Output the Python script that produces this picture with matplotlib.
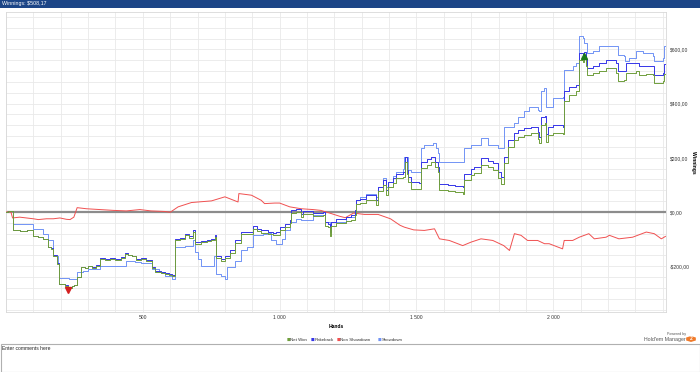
import matplotlib
matplotlib.use('Agg')
import matplotlib.pyplot as plt
from matplotlib.patches import Rectangle, RegularPolygon
from matplotlib.ticker import FuncFormatter, MultipleLocator

plt.rcParams['font.family'] = ['Liberation Sans', 'DejaVu Sans']

# Net won and rakeback (hands, $)
nw_hands = [0, 8, 18, 24, 50, 75, 100, 118, 136, 155, 165, 173, 185, 195, 215, 228, 240, 250,
            258, 273, 290, 300, 315, 330, 343, 360, 380, 400, 420, 434, 445, 460, 475, 495, 510,
            532, 544, 565, 580, 595, 605, 617, 635, 653, 670, 684, 690, 714, 735, 751, 762, 769,
            787, 800, 818, 836, 858, 880, 903, 918, 933, 958, 975, 988, 1000, 1018, 1037, 1043,
            1061, 1079, 1085, 1122, 1158, 1164, 1175, 1183, 1189, 1207, 1244, 1260, 1274, 1280,
            1292, 1316, 1340, 1353, 1359, 1377, 1390, 1396, 1414, 1426, 1450, 1458, 1464, 1468,
            1481, 1511, 1517, 1540, 1554, 1566, 1578, 1584, 1614, 1640, 1669, 1675, 1700, 1712,
            1736, 1760, 1779, 1797, 1809, 1819, 1834, 1858, 1870, 1894, 1919, 1943, 1949, 1955,
            1968, 1973, 1979, 1998, 2034, 2040, 2059, 2083, 2095, 2107, 2113, 2120, 2125, 2144,
            2168, 2193, 2229, 2235, 2259, 2266, 2302, 2314, 2340, 2363, 2369, 2400, 2406, 2410]
net_won = [0, 4, 2, -68, -70, -68, -90, -94, -99, -130, -135, -161, -191, -266, -272, -279, -274,
           -270, -241, -204, -208, -200, -206, -198, -173, -178, -172, -176, -170, -154, -160, -164,
           -176, -174, -182, -207, -220, -224, -230, -233, -236, -104, -100, -86, -95, -74, -117,
           -112, -108, -105, -92, -170, -180, -168, -150, -113, -82, -80, -62, -70, -77, -82, -85,
           -84, -66, -54, -42, -5, 0, -17, -8, -16, -12, -50, -56, -88, -52, -40, -34, -28, -10,
           28, 34, 46, 45, 26, 76, 100, 62, 93, 106, 124, 130, 184, 140, 111, 86, 86, 163, 175,
           183, 165, 148, 80, 76, 72, 68, 117, 135, 145, 173, 166, 154, 125, 105, 180, 241, 265,
           278, 284, 290, 270, 253, 321, 327, 258, 285, 290, 288, 408, 432, 445, 560, 554, 566,
           540, 506, 513, 520, 531, 513, 482, 488, 513, 519, 506, 508, 506, 475, 482, 508, 508]
rakeback = [0, 4, 2, -68, -69, -67, -89, -93, -98, -129, -134, -160, -190, -265, -271, -278, -273,
            -268, -239, -202, -206, -198, -204, -196, -171, -175, -169, -173, -167, -151, -157, -161,
            -172, -170, -178, -203, -216, -220, -226, -229, -231, -99, -95, -80, -90, -68, -111,
            -106, -102, -99, -86, -164, -173, -162, -142, -105, -74, -72, -53, -61, -68, -73, -76,
            -74, -56, -43, -31, 6, 12, -6, 4, -4, 0, -37, -43, -74, -37, -25, -19, -12, 6, 43, 49,
            62, 62, 43, 93, 117, 80, 111, 124, 142, 148, 202, 155, 130, 111, 108, 185, 197, 204,
            185, 167, 105, 99, 96, 93, 142, 160, 167, 198, 190, 179, 148, 130, 204, 266, 290, 303,
            310, 315, 296, 278, 352, 356, 287, 315, 321, 315, 445, 463, 469, 587, 580, 590, 566,
            530, 537, 548, 562, 550, 519, 519, 550, 550, 537, 540, 537, 506, 513, 547, 547]

# Showdown winnings
sd_hands = [0, 8, 18, 24, 60, 100, 136, 155, 173, 190, 195, 230, 258, 282, 300, 343, 434, 440,
            470, 495, 532, 560, 580, 605, 617, 653, 684, 690, 700, 714, 751, 760, 769, 787, 800,
            806, 836, 860, 880, 903, 940, 958, 970, 988, 1010, 1018, 1037, 1061, 1079, 1122, 1158,
            1164, 1183, 1189, 1244, 1274, 1280, 1292, 1316, 1353, 1359, 1377, 1390, 1414, 1426,
            1450, 1456, 1468, 1481, 1511, 1517, 1529, 1560, 1572, 1578, 1584, 1675, 1700, 1736,
            1754, 1760, 1797, 1819, 1858, 1870, 1894, 1913, 1943, 1949, 1955, 1967, 1973, 1998,
            2034, 2040, 2071, 2083, 2095, 2107, 2113, 2125, 2144, 2168, 2229, 2235, 2259, 2263,
            2278, 2302, 2327, 2363, 2369, 2400, 2406, 2410]
showdown = [0, 4, 2, -46, -44, -64, -80, -105, -161, -191, -245, -248, -222, -216, -212, -198, -198,
            -179, -185, -188, -210, -222, -235, -247, -130, -124, -105, -148, -175, -198, -198, -164,
            -228, -235, -247, -204, -179, -142, -130, -86, -80, -78, -105, -117, -99, -68, -37, -25,
            -31, -12, -12, -37, -62, -37, -19, -6, 43, 56, 68, 56, 93, 124, 93, 132, 148, 157, 204,
            154, 148, 148, 235, 247, 253, 235, 216, 185, 235, 247, 272, 272, 247, 235, 315, 327, 352,
            371, 389, 377, 371, 445, 457, 389, 420, 426, 525, 537, 550, 648, 642, 624, 587, 593, 611,
            611, 580, 574, 556, 568, 593, 587, 574, 556, 568, 611, 611]

# Non showdown winnings
ns_hands = [0, 18, 24, 50, 75, 100, 118, 148, 173, 197, 221, 234, 248, 260, 294, 343, 392, 440,
            489, 530, 580, 600, 629, 678, 751, 787, 800, 848, 851, 897, 933, 945, 982, 1000, 1037,
            1079, 1122, 1150, 1183, 1220, 1240, 1270, 1310, 1360, 1405, 1440, 1456, 1490, 1529,
            1566, 1584, 1620, 1669, 1700, 1736, 1779, 1819, 1840, 1858, 1882, 1906, 1943, 1968,
            1985, 2034, 2040, 2071, 2095, 2130, 2150, 2193, 2205, 2240, 2290, 2340, 2369, 2395, 2410]
non_showdown = [0, 0, -22, -19, -22, -25, -28, -25, -25, -22, -27, -28, -19, 16, 12, 9, 6, 4, 9, 4,
                2, -1, 19, 35, 41, 52, 56, 37, 68, 62, 43, 31, 33, 33, 19, 12, 9, 6, -4, -16, -21,
                -4, -9, -9, -25, -49, -56, -66, -68, -62, -99, -105, -124, -111, -99, -105, -124,
                -142, -80, -86, -105, -105, -117, -117, -136, -105, -105, -93, -80, -99, -93, -86,
                -99, -93, -74, -80, -99, -90]

series_names = ['Net Won', 'Rakeback', 'Non Showdown', 'Showdown']
series_colors = ['#6f9e3c', '#3535e8', '#f05050', '#7193f5']
legend_x = [287, 311, 337, 378]
total_winnings = '$508,17'


def money(v, pos):
    s = f"{abs(v):,.2f}".replace(',', '').replace('.', ',')
    return ('-' if v < 0 else '') + '$' + s


def hands_fmt(v, pos):
    if v <= 0:
        return ''
    return f"{int(v):,}".replace(',', ' ')


fig = plt.figure(figsize=(7, 3.72), dpi=100)
fig.patch.set_facecolor('white')

# title bar
fig.patches.append(Rectangle((0, 1 - 8 / 372), 1, 8 / 372, transform=fig.transFigure,
                             facecolor='#1c4587', edgecolor='none', zorder=0))
fig.text(0.003, 1 - 4 / 372, f'Winnings: {total_winnings}', color='white', fontsize=3.8,
         va='center', ha='left')

ax = fig.add_axes([6 / 700, 1 - 312 / 372, 660 / 700, 300 / 372])
ax.set_xlim(0, 2412)
ax.set_ylim(-369, 738)

ax.xaxis.set_major_locator(MultipleLocator(500))
ax.xaxis.set_minor_locator(MultipleLocator(100))
ax.yaxis.set_major_locator(MultipleLocator(200))
ax.yaxis.set_minor_locator(MultipleLocator(40))
ax.grid(True, which='both', color='#e9e9e9', lw=0.6)
ax.set_axisbelow(True)
ax.yaxis.tick_right()
ax.yaxis.set_label_position('right')
ax.tick_params(which='both', length=0, labelsize=3.6, colors='#333333', pad=2.5)
ax.xaxis.set_major_formatter(FuncFormatter(hands_fmt))
ax.yaxis.set_major_formatter(FuncFormatter(money))
for sp in ax.spines.values():
    sp.set_color('#d8d8d8')
    sp.set_linewidth(0.6)

ax.axhline(0, color='#8c8c8c', lw=1.6, zorder=2)

ax.plot(sd_hands, showdown, drawstyle='steps-post', color=series_colors[3], lw=0.7, zorder=3)
ax.plot(ns_hands, non_showdown, color=series_colors[2], lw=0.7, zorder=3)
ax.plot(nw_hands, rakeback, drawstyle='steps-post', color=series_colors[1], lw=0.7, zorder=4)
ax.plot(nw_hands, net_won, drawstyle='steps-post', color=series_colors[0], lw=0.7, zorder=5)

# min / max markers on net won
i_min = net_won.index(min(net_won))
i_max = net_won.index(max(net_won))
ax.plot(nw_hands[i_min], net_won[i_min] - 8, marker='v', color='#d42020', ms=4, zorder=6)
ax.plot(nw_hands[i_max], net_won[i_max] + 8, marker='^', color='#1a7a1a', ms=4, zorder=6)

ax.set_xlabel('Hands', fontsize=3.6, fontweight='bold')
ax.xaxis.set_label_coords(0.5, -0.04)
ax.set_ylabel('Winnings', fontsize=3.6, fontweight='bold', rotation=270, va='center')
ax.yaxis.set_label_coords(1.042, 0.5)

# legend
for name, col, lx in zip(series_names, series_colors, legend_x):
    fig.text(lx / 700, 1 - 340 / 372, '\u25a0', color=col, fontsize=2.8, va='center',
             ha='left', family='DejaVu Sans')
    fig.text((lx + 3.5) / 700, 1 - 340 / 372, name, color='#333333', fontsize=3.2,
             va='center', ha='left')

# powered by
fig.text(686 / 700, 1 - 334 / 372, 'Powered by', fontsize=2.6, color='#555555',
         ha='right', va='center')
fig.text(686 / 700, 1 - 340 / 372, "Hold'em Manager", fontsize=3.8, color='#555555',
         ha='right', va='center')
fig.patches.append(RegularPolygon((691 / 700, 1 - 339 / 372), 6, radius=0.008,
                                  transform=fig.transFigure, facecolor='#f07a2a',
                                  edgecolor='none'))
fig.text(691 / 700, 1 - 339 / 372, '2', fontsize=3.5, color='white', fontweight='bold',
         ha='center', va='center')

# comments box
fig.patches.append(Rectangle((0.5 / 700, 0.5 / 372), 699 / 700, 27.5 / 372,
                             transform=fig.transFigure, facecolor='white',
                             edgecolor='#b0b0b0', lw=0.8))
fig.text(2 / 700, 1 - 348 / 372, 'Enter comments here', fontsize=3.6, color='#222222',
         ha='left', va='center')

fig.savefig('out.png', dpi=100)
